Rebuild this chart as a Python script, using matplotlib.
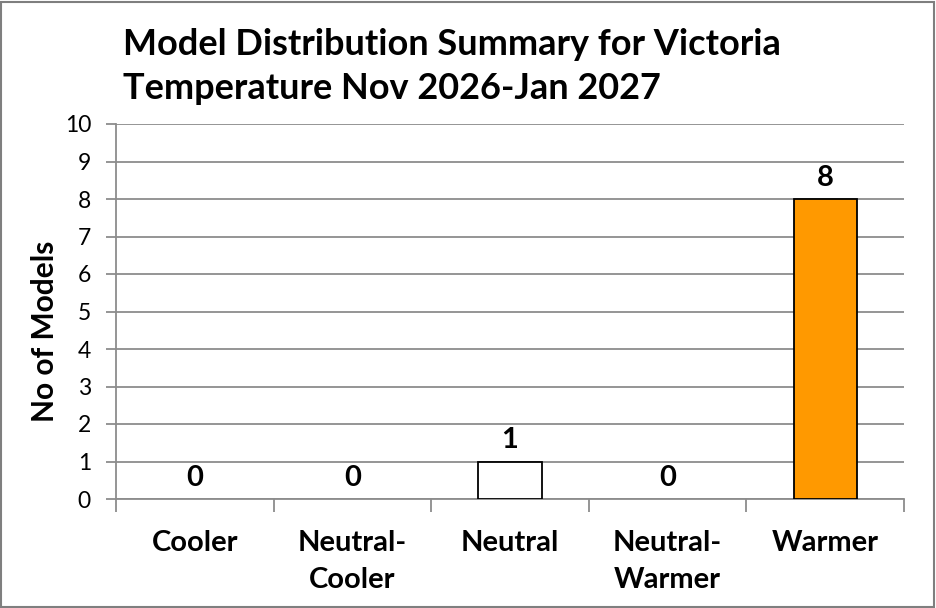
import matplotlib
matplotlib.use("Agg")
import matplotlib.pyplot as plt
from matplotlib.patches import Rectangle

categories = ["Cooler", "Neutral-\nCooler", "Neutral", "Neutral-\nWarmer", "Warmer"]
values = [0, 0, 1, 0, 8]
bar_colors = ["#FFFFFF", "#FFFFFF", "#FFFFFF", "#FFFFFF", "#FF9900"]
yticks = list(range(0, 11))
title = "Model Distribution Summary for Victoria\nTemperature Nov 2026-Jan 2027"
ylabel = "No of Models"

plt.rcParams['font.family'] = ['Lato', 'DejaVu Sans']

fig = plt.figure(figsize=(9.36, 6.08), dpi=100)
ax = fig.add_axes([116/936, 1-499/608, (904-116)/936, (499-124)/608])

x = list(range(len(categories)))
lws = [1.3 if v > 0 else 0 for v in values]
ax.bar(x, values, width=0.4, color=bar_colors, edgecolor="black", linewidth=lws, zorder=3)
for xi, v in zip(x, values):
    ax.annotate(str(v), (xi, v), xytext=(0, 6), textcoords="offset points",
                ha="center", va="bottom", fontsize=21, fontweight="bold")

ax.set_xlim(-0.5, len(categories) - 0.5)
ax.set_ylim(0, 10)
ax.set_yticks(yticks)
ax.yaxis.grid(True, color="#8c8c8c", linewidth=1.3, zorder=0)
ax.tick_params(axis="y", length=7, width=1.3, color="#8c8c8c", labelsize=16.5, pad=11)
ax.set_xticks(x)
ax.set_xticklabels(categories, fontsize=21, fontweight="bold", linespacing=1.55)
ax.set_xticks([i - 0.5 for i in range(len(categories) + 1)], minor=True)
ax.tick_params(axis="x", which="major", length=0, pad=22)
ax.tick_params(axis="x", which="minor", length=9, width=1.3, color="#8c8c8c")
for s in ["top", "right"]:
    ax.spines[s].set_visible(False)
for s in ["left", "bottom"]:
    ax.spines[s].set_color("#8c8c8c")
    ax.spines[s].set_linewidth(1.3)
ax.set_axisbelow(True)

fig.text(45/936, 1-331/608, ylabel, rotation=90, ha="center", va="center",
         fontsize=21.5, fontweight="bold")
fig.text(123/936, 1-28/608, title, ha="left", va="top", fontsize=26,
         fontweight="bold", linespacing=1.4)

fig.add_artist(Rectangle((1/936, 1/608), 933/936, 605/608, transform=fig.transFigure,
                         fill=False, edgecolor="#7f7f7f", linewidth=1.5))

fig.savefig("out.png", dpi=100)
